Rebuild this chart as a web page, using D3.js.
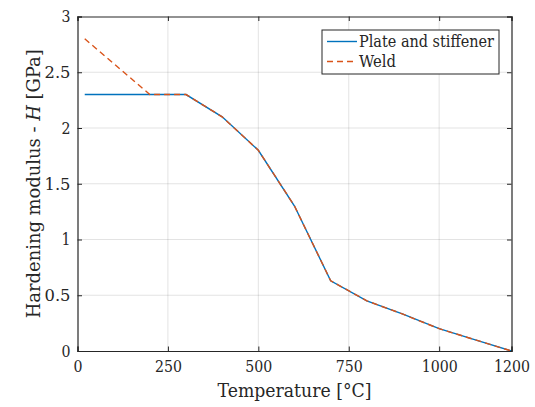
<!DOCTYPE html>
<html><head><meta charset="utf-8">
<script src="https://cdn.jsdelivr.net/npm/d3@7"></script>
<style>body{margin:0;background:#fff;} svg text{font-family:"DejaVu Serif",serif !important;fill:#262626;}</style>
</head><body><svg id="c" width="535" height="407"></svg>
<script>
const plateT = [20, 100, 200, 300, 400, 500, 600, 700, 800, 900, 1000, 1100, 1200];
const plateH = [2.3, 2.3, 2.3, 2.3, 2.1, 1.8, 1.3, 0.63, 0.45, 0.33, 0.2, 0.1, 0];
const weldT = [20, 100, 200, 300, 400, 500, 600, 700, 800, 900, 1000, 1100, 1200];
const weldH = [2.8, 2.578, 2.3, 2.3, 2.1, 1.8, 1.3, 0.63, 0.45, 0.33, 0.2, 0.1, 0];
const xTicks = [0, 250, 500, 750, 1000, 1200];
const yTicks = [0, 0.5, 1, 1.5, 2, 2.5, 3];
const seriesNames = ["Plate and stiffener", "Weld"];
const colors = ["#0072BD", "#D95319"];

const svg = d3.select("#c");
const L = 77.5, R = 511.5, T = 16.5, B = 351;
const x = d3.scaleLinear().domain([0, 1200]).range([L, R]);
const y = d3.scaleLinear().domain([0, 3]).range([B, T]);
const axCol = "#262626";

const g = svg.append("g");
g.selectAll(".gx").data(xTicks.filter(d => d > 0 && d < 1200)).enter().append("line")
  .attr("x1", d => x(d)).attr("x2", d => x(d)).attr("y1", T).attr("y2", B)
  .attr("stroke", axCol).attr("stroke-opacity", 0.13).attr("stroke-width", 1);
g.selectAll(".gy").data(yTicks.filter(d => d > 0 && d < 3)).enter().append("line")
  .attr("y1", d => y(d)).attr("y2", d => y(d)).attr("x1", L).attr("x2", R)
  .attr("stroke", axCol).attr("stroke-opacity", 0.13).attr("stroke-width", 1);

const line = d3.line().x(d => x(d[0])).y(d => y(d[1]));
svg.append("path").datum(plateT.map((t, i) => [t, plateH[i]]))
  .attr("d", line).attr("fill", "none").attr("stroke", colors[0]).attr("stroke-width", 1.4);
svg.append("path").datum(weldT.map((t, i) => [t, weldH[i]]))
  .attr("d", line).attr("fill", "none").attr("stroke", colors[1]).attr("stroke-width", 1.4)
  .attr("stroke-dasharray", "6,4");

const xa = svg.append("g").attr("transform", `translate(0,${B})`)
  .call(d3.axisBottom(x).tickValues(xTicks).tickSize(-4.5).tickPadding(9).tickFormat(d3.format("d")));
const xt = svg.append("g").attr("transform", `translate(0,${T})`)
  .call(d3.axisTop(x).tickValues(xTicks).tickSize(-4.5).tickFormat(""));
const ya = svg.append("g").attr("transform", `translate(${L},0)`)
  .call(d3.axisLeft(y).tickValues(yTicks).tickSize(-4.5).tickPadding(7).tickFormat(d => d3.format("")(d)));
const yr = svg.append("g").attr("transform", `translate(${R},0)`)
  .call(d3.axisRight(y).tickValues(yTicks).tickSize(-4.5).tickFormat(""));
[xa, xt, ya, yr].forEach(a => {
  a.attr("font-family", null);
  a.selectAll("path").attr("stroke", axCol).attr("stroke-width", 1.2);
  a.selectAll("line").attr("stroke", axCol);
  a.selectAll("text").attr("font-size", 17).attr("fill", axCol);
});
xa.selectAll("text").attr("textLength", d => String(d).length * 9).attr("lengthAdjust", "spacingAndGlyphs");
ya.selectAll("text").attr("textLength", d => String(d).length === 1 ? 9 : 26).attr("lengthAdjust", "spacingAndGlyphs");

svg.append("text").attr("x", (L + R) / 2).attr("y", 397).attr("text-anchor", "middle")
  .attr("font-size", 19).attr("textLength", 154).attr("lengthAdjust", "spacingAndGlyphs")
  .text("Temperature [°C]");
const yl = svg.append("text").attr("transform", `translate(40,${(T + B) / 2}) rotate(-90)`)
  .attr("text-anchor", "middle").attr("font-size", 19)
  .attr("textLength", 269).attr("lengthAdjust", "spacingAndGlyphs");
yl.append("tspan").text("Hardening modulus - ");
yl.append("tspan").attr("font-style", "italic").text("H");
yl.append("tspan").text(" [GPa]");

const lg = svg.append("g");
lg.append("rect").attr("x", 322).attr("y", 30).attr("width", 177).attr("height", 44)
  .attr("fill", "#fff").attr("stroke", axCol).attr("stroke-width", 1);
seriesNames.forEach((n, i) => {
  const yy = 41.5 + i * 20;
  lg.append("line").attr("x1", 327).attr("x2", 357).attr("y1", yy).attr("y2", yy)
    .attr("stroke", colors[i]).attr("stroke-width", 1.4)
    .attr("stroke-dasharray", i === 1 ? "6,4" : null);
  lg.append("text").attr("x", 359).attr("y", yy + 5.5).attr("font-size", 16)
    .attr("textLength", i === 0 ? 135 : 37).attr("lengthAdjust", "spacingAndGlyphs").text(n);
});
</script></body></html>
